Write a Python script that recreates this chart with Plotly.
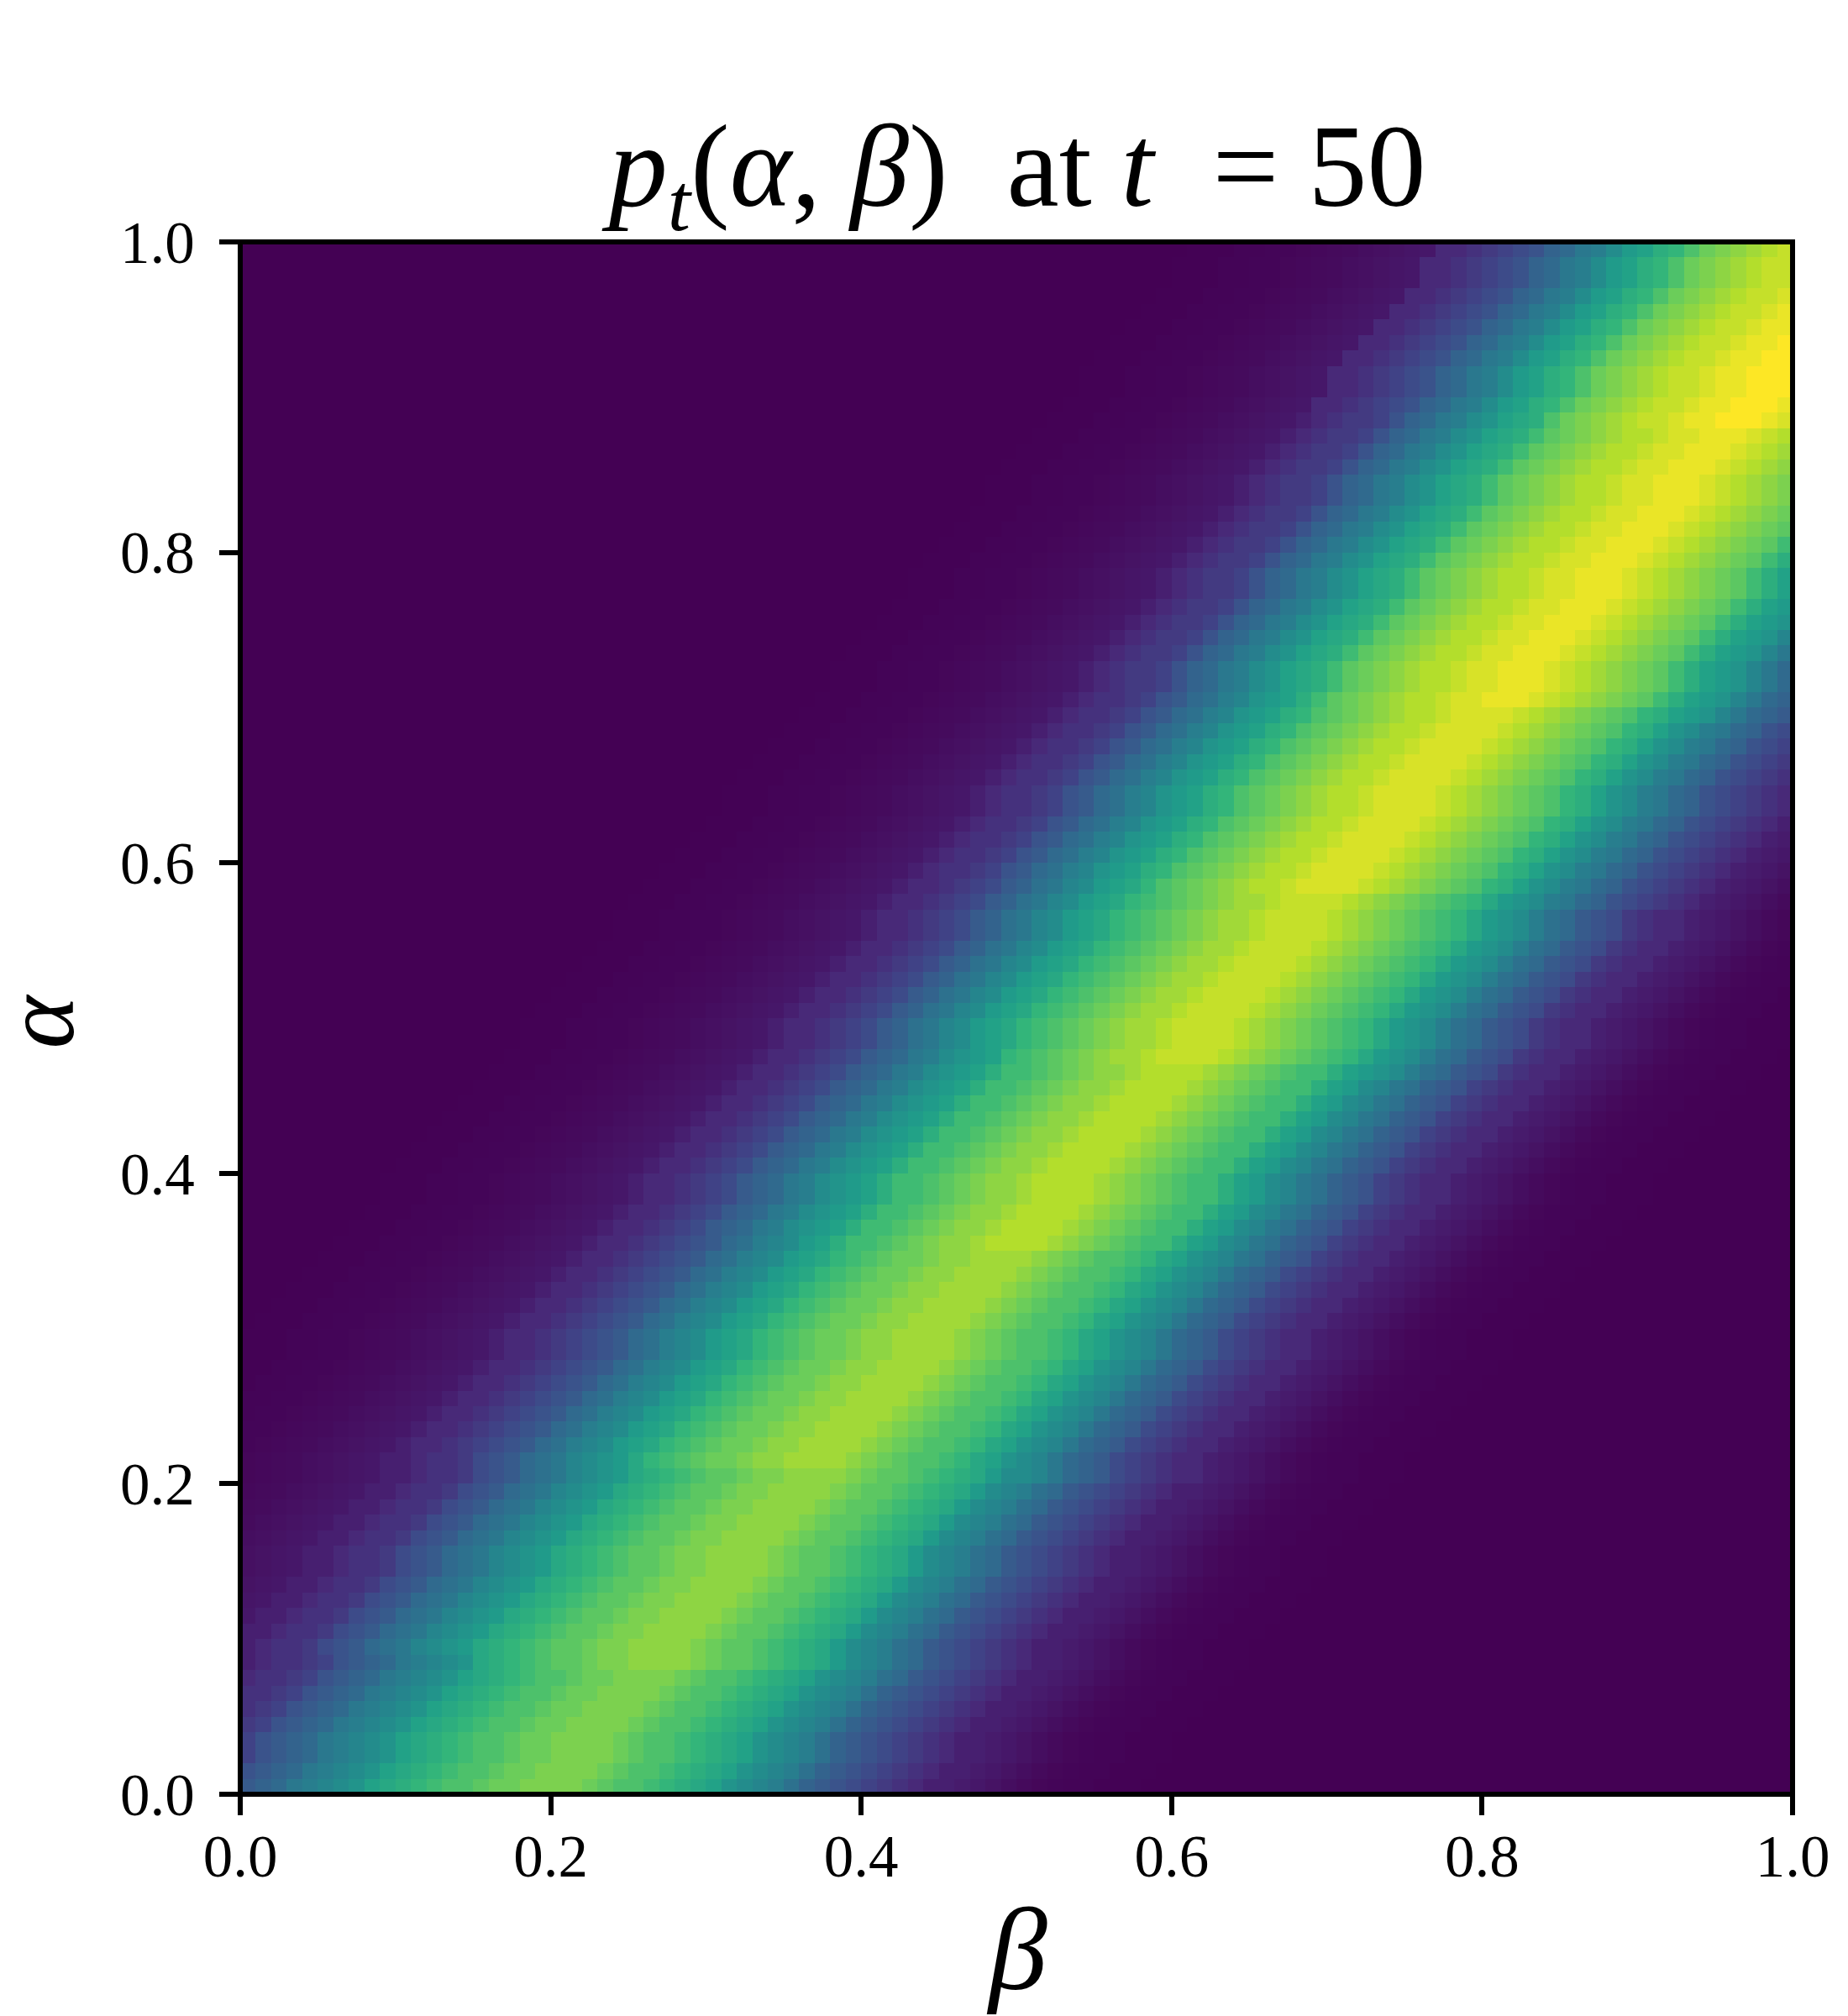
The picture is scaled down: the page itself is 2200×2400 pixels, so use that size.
"""Heatmap of p_t(alpha, beta) at t = 50, 100 x 100 cells, viridis."""
import plotly.graph_objects as go

N_CELLS = 100
LEVEL_MAX = 35  # digits 0-9a-z are cell levels out of 35

# finer steps for the dark tails, where viridis changes quickly
TAIL_LEVELS = {
    "A": 0.004, "B": 0.008, "C": 0.012, "D": 0.016, "E": 0.021, "F": 0.025,
    "G": 0.036, "H": 0.043, "I": 0.050, "J": 0.064, "K": 0.075,
}

# first column covered by each row's string, bottom row first
ROW_START = [
    -24, -23, -22, -22, -21, -20, -19, -18, -17, -17,
    -16, -15, -14, -13, -12, -12, -11, -10, -9, -8,
    -7, -7, -6, -5, -4, -3, -2, -1, 0, 0,
    1, 2, 3, 4, 5, 6, 7, 8, 9, 9,
    10, 11, 12, 13, 14, 15, 16, 17, 18, 18,
    19, 20, 21, 22, 23, 24, 24, 25, 26, 27,
    28, 29, 30, 31, 31, 32, 33, 34, 35, 36,
    37, 38, 38, 39, 40, 41, 42, 43, 43, 44,
    45, 46, 47, 48, 48, 49, 50, 51, 52, 53,
    54, 54, 55, 56, 57, 58, 59, 60, 60, 61,
]

# cell levels along each row, bottom row first; everything outside is 0
ROW_LEVELS = [
    # rows 0-9
    "AAABBCCDEF1GHI2J33455679abcefghiklmnoppqrrssssrqpponmlkihgfdba98765433KJIGFDCBBAAA",
    "AAABBCCDEF1GHI2J33455679abcefghiklmnoppqrrssssrqpponmlkihgfdba98765433KJIGFDCBBAAA",
    "AAABBCCDEF1GHI2J33455679abcefghiklmnoppqrrssssrqpponmlkihgfdba98765433KJIGFDCBBAAA",
    "AAABBCCDEF1GHI2J33455679abcefghiklmnoppqrrssssrqpponmlkihgfdba98765433KJIGFDCBBAAA",
    "AAABBCCDEF1GHI2J33455679abcefghiklmnoppqrrssssrqpponmlkihgfdba98765433KJIGFDCBBAAA",
    "AAABBCCDEF1GHI2J33455679abcefghiklmnoppqrrssssrqpponmlkihgfdba98765433KJIGFDCBBAAA",
    "AAABBCCDEF1GHI2J33455679abcefghiklmnoppqrrssssrqpponmlkihgfdba98765433KJIGFDCBBAAA",
    "AAABBCCDEF1GHI2J33455679abcefghiklmnoppqrrssssrqpponmlkihgfdca98765433KJIGFDCBBAAA",
    "AAABBCCDEF1GHI2J33455679abcefghilmnopqqrssttttsrqqponmljhgfdca98765433KJIGFDCBBAAA",
    "AAABBCCDEF1GHI2J33455689acdeghijlmnopqqrssttttsrqqponmljhgfdca98765433KJIGFDCBBAAA",
    # rows 10-19
    "AAABBCCDEF1GHI2J33455689acdeghijlmnopqqrssttttsrqqponmljhgfdca98765433KJIGFDCBBAAA",
    "AAABBCCDEF1GHI2J33455689acdeghijlmnopqqrssttttsrqqponmljhgfdca98765433KJIGFDCBBAAA",
    "AAABBCCDEF1GHI2J33455689acdeghijlmnopqqrssttttsrqqponmljhgfdca98765433KJIGFDCBBAAA",
    "AAABBCCDEF1GHI2J33455689acdeghijlmnopqqrssttttsrqqponmljhgfdca98765433KJIGFDCBBAAA",
    "AAABBCCDEF1GHI2J33455689acdeghijlmnopqqrssttttsrqqponmljhgfdca98765433KJIGFDCBBAAA",
    "AAABBCCDEF1GHI2J33455689acdeghijlmnopqqrssttttsrqqponmljhgfdca98765433KJIGFDCBBAAA",
    "AAABBCCDEF1GHI2J33455689acdeghijlmnopqqrssttttsrqqponmljhgfdca98765433KJIGFDCBBAAA",
    "AAABBCCDEF1GHI2J33455689acdeghijlmnopqqrssttttsrqqponmljhgfdca98765433KJIGFDCBBAAA",
    "AAABBCCDEF1GHI2J33455689acdeghijlmnopqqrssttttsrqqponmljhgfdca98765433KJIGFDCBBAAA",
    "AAABBCCDEF1GHI2J33455689acdeghijlmnopqqrssttttsrqqponmljhgfdca98765433KJIGFDCBBAAA",
    # rows 20-29
    "AAABBCCDEF1GHI2J33455689acdeghijlmnopqqrssttttsrqqponmljhhgecba8765443KJIGFDCBBAAA",
    "AAABBCCDEF1GHI2J33455689acdeghijlnopqrrsttuuuutsrqpponlkihgecba8765443KJIGFDCBBAAA",
    "AAABBCCDEF1GHI2J34456789acdfghjklnopqrrsttuuuutsrqpponlkihgecba8765443KJIGFDCBBAAA",
    "AAABBCCDEF1GHI2J34456789acdfghjklnopqrrsttuuuutsrqpponlkihgecba8765443KJIGFDCBBAAA",
    "AAABBCCDEF1GHI2J34456789acdfghjklnopqrrsttuuuutsrqpponlkihgecba8765443KJIGFDCBBAAA",
    "AAABBCCDEF1GHI2J34456789acdfghjklnopqrrsttuuuutsrqpponlkihgecba8765443KJIGFDCBBAAA",
    "AAABBCCDEF1GHI2J34456789acdfghjklnopqrrsttuuuutsrqpponlkihgecba8765443KJIGFDCBBAAA",
    "AAABBCCDEF1GHI2J34456789acdfghjklnopqrrsttuuuutsrqpponlkihgecba8765443KJIGFDCBBAAA",
    "AAABBCCDEF1GHI2J34456789acdfghjklnopqrrsttuuuutsrqpponlkihgecba8765443KJIGFDCBBAAA",
    "AAABBCCDEF1GHI2J34456789acdfghjklnopqrrsttuuuutsrqpponlkihgecba8765443KJIGFDCBBAAA",
    # rows 30-39
    "AAABBCCDEF1GHI2J34456789acdfghjklnopqrrsttuuuutsrqpponlkihgecba8765443KJIGFDCBBAAA",
    "AAABBCCDEF1GHI2J34456789acdfghjklnopqrrsttuuuutsrqpponlkihgecba8765443KJIGFDCBBAAA",
    "AAABBCCDEF1GHI2J34456789acdfghjklnopqrrsttuuuutsrqpponlkihgecba8765443KJIGFDCBBAAA",
    "AAABBCCDEF1GHI2J34456789acdfghjklnopqrrsttuuuutsrqpponlkihgecba8765443KJIGFDCBBAAA",
    "AAABBCCDEF1GHI2J34456789acdfghjklnopqrrsttuuuutsrqpponlkihgedba9765443KJIGFDCBBAAA",
    "AAABBCCDEF1GHI2J34456789acdfghjkmoopqrsttuvvvvutsrqpoomkjhgedba9765443KJIGFDCBBAAA",
    "AAABBCCDEF1GHI2J3445678abcefhijkmoopqrsttuvvvvutsrqpoomkjhgedba9765443KJIGFDCBBAAA",
    "AAABBCCDEF1GHI2J3445678abcefhijkmoopqrsttuvvvvutsrqpoomkjhgedba9765443KJIGFDCBBAAA",
    "AAABBCCDEF1GHI2J3445678abcefhijkmoopqrsttuvvvvutsrqpoomkjhgedba9765443KJIGFDCBBAAA",
    "AAABBCCDEF1GHI2J3445678abcefhijkmoopqrsttuvvvvutsrqpoomkjhgedba9765443KJIGFDCBBAAA",
    # rows 40-49
    "AAABBCCDEF1GHI2J3445678abcefhijkmoopqrsttuvvvvutsrqpoomkjhgedba9765443KJIGFDCBBAAA",
    "AAABBCCDEF1GHI2J3445678abcefhijkmoopqrsttuvvvvutsrqpoomkjhgedba9765443KJIGFDCBBAAA",
    "AAABBCCDEF1GHI2J3445678abcefhijkmoopqrsttuvvvvutsrqpoomkjhgedba9765443KJIGFDCBBAAA",
    "AAABBCCDEF1GHI2J3445678abcefhijkmoopqrsttuvvvvutsrqpoomkjhgedba9765443KJIGFDCBBAAA",
    "AAABBCCDEF1GHI2J3445678abcefhijkmoopqrsttuvvvvutsrqpoomkjhgedba9765443KJIGFDCBBAAA",
    "AAABBCCDEF1GHI2J3445678abcefhijkmoopqrsttuvvvvutsrqpoomkjhgedba9765443KJIGFDCBBAAA",
    "AAABBCCDEF1GHI2J3445678abcefhijkmoopqrsttuvvvvutsrqpoomkjihfdca9865443KJIGFDCBBAAA",
    "AAABBCCDEF1GHI2J3445678abcefhijknopqrstuuvwwwwvutsrqponljihfdca9865443KJIGFDCBBAAA",
    "AAABBCCDEF1GHI2J3445678abdeghjklnopqrstuuvwwwwvutsrqponljihfdca9865443KJIGFDCBBAAA",
    "AAABBCCDEF1GHI2J3445678abdeghjklnopqrstuuvwwwwvutsrqponljihfdca9865443KJIGFDCBBAAA",
    # rows 50-59
    "AAABBCCDEF1GHI2J3445678abdeghjklnopqrstuuvwwwwvutsrqponljihfdca9865443KJIGFDCBBAAA",
    "AAABBCCDEF1GHI2J3445678abdeghjklnopqrstuuvwwwwvutsrqponljihfdca9865443KJIGFDCBBAAA",
    "AAABBCCDEF1GHI2J3445678abdeghjklnopqrstuuvwwwwvutsrqponljihfdca9865443KJIGFDCBBAAA",
    "AAABBCCDEF1GHI2J3445678abdeghjklnopqrstuuvwwwwvutsrqponljihfdca9865443KJIGFDCBBAAA",
    "AAABBCCDEF1GHI2J3445678abdeghjklnopqrstuuvwwwwvutsrqponljihfdca9865443KJIGFDCBBAAA",
    "AAABBCCDEF1GHI2J3445678abdeghjklnopqrstuuvwwwwvutsrqponljihfdca9865443KJIGFDCBBAAA",
    "AAABBCCDEF1GHI2J3445678abdeghjklnopqrstuuvwwwwvutsrqponljihfdca9865443KJIGFDCBBAAA",
    "AAABBCCDEF1GHI2J3445678abdeghjklnopqrstuuvwwwwvutsrqponljihfecb9876543KJIGFDCBBAAA",
    "AAABBCCDEF1GHI2J3445678abdeghjklnpqrstuvvwxxxxwvutsrqpnmkihfecb9876543KJIGFDCBBAAA",
    "AAABBCCDEF1GHI2J3455679acdfgijkmnpqrstuvvwxxxxwvutsrqpnmkihfecb9876543KJIGFDCBBAAA",
    # rows 60-69
    "AAABBCCDEF1GHI2J3455679acdfgijkmnpqrstuvvwxxxxwvutsrqpnmkihfecb9876543KJIGFDCBBAAA",
    "AAABBCCDEF1GHI2J3455679acdfgijkmnpqrstuvvwxxxxwvutsrqpnmkihfecb9876543KJIGFDCBBAAA",
    "AAABBCCDEF1GHI2J3455679acdfgijkmnpqrstuvvwxxxxwvutsrqpnmkihfecb9876543KJIGFDCBBAAA",
    "AAABBCCDEF1GHI2J3455679acdfgijkmnpqrstuvvwxxxxwvutsrqpnmkihfecb9876543KJIGFDCBBAAA",
    "AAABBCCDEF1GHI2J3455679acdfgijkmnpqrstuvvwxxxxwvutsrqpnmkihfecb9876543KJIGFDCBBAAA",
    "AAABBCCDEF1GHI2J3455679acdfgijkmnpqrstuvvwxxxxwvutsrqpnmkihfecb9876543KJIGFDCBBAAA",
    "AAABBCCDEF1GHI2J3455679acdfgijkmnpqrstuvvwxxxxwvutsrqpnmkihfecb9876543KJIGFDCBBAAA",
    "AAABBCCDEF1GHI2J3455679acdfgijkmnpqrstuvvwxxxxwvutsrqpnmkihfecb9876543KJIGFDCBBAAA",
    "AAABBCCDEF1GHI2J3455679acdfgijkmnpqrstuvvwxxxxwvutsrqpnmkihfecb9876543KJIGFDCBBAAA",
    "AAABBCCDEF1GHI2J3455679acdfgijkmnpqrstuvvwxxxxwvutsrqpnmkjigecba876543KJIGFDCBBAAA",
    # rows 70-79
    "AAABBCCDEF1GHI2J3455679acdfgijkmoqrstuvvwxxyyyxwvutsrqomkjigecba876543KJIGFDCBBAAA",
    "AAABBCCDEF1GHI2J3456679bcefhiklmoqrstuvvwxxyyyxwvutsrqomkjigecba876543KJIGFDCBBAAA",
    "AAABBCCDEF1GHI2J3456679bcefhiklmoqrstuvvwxxyyyxwvutsrqomkjigecba876543KJIGFDCBBAAA",
    "AAABBCCDEF1GHI2J3456679bcefhiklmoqrstuvvwxxyyyxwvutsrqomkjigecba876543KJIGFDCBBAAA",
    "AAABBCCDEF1GHI2J3456679bcefhiklmoqrstuvvwxxyyyxwvutsrqomkjigecba876543KJIGFDCBBAAA",
    "AAABBCCDEF1GHI2J3456679bcefhiklmoqrstuvvwxxyyyxwvutsrqomkjigecba876543KJIGFDCBBAAA",
    "AAABBCCDEF1GHI2J3456679bcefhiklmoqrstuvvwxxyyyxwvutsrqomkjigecba876543KJIGFDCBBAAA",
    "AAABBCCDEF1GHI2J3456679bcefhiklmoqrstuvvwxxyyyxwvutsrqomkjigecba876543KJIGFDCBBAAA",
    "AAABBCCDEF1GHI2J3456679bcefhiklmoqrstuvvwxxyyyxwvutsrqomkjigecba876543KJIGFDCBBAAA",
    "AAABBCCDEF1GHI2J3456679bcefhiklmoqrstuvvwxxyyyxwvutsrqomkjigecba876543KJIGFDCBBAAA",
    # rows 80-89
    "AAABBCCDEF1GHI2J3456679bcefhiklmoqrstuvvwxxyyyxwvutsrqomkjigecba876543KJIGFDCBBAAA",
    "AAABBCCDEF1GHI2J3456679bcefhiklmoqrstuvvwxxyyyxwvutsrqomkjigecba876543KJIGFDCBBAAA",
    "AAABBCCDEF1GHI2J3456679bcefhiklmoqrstuvvwxxyyyxwvutsrqomkjigecba876543KJIGFDCBBAAA",
    "AAABBCCDEF1GHI2J3456679bcefhiklmoqrstuvvwxxyyyxwvutsrqomkjigecba876543KJIGFDCBBAAA",
    "AAABBCCDEF1GHI2J3456679bcefhiklmoqrstuvvwxxyyyxwvutsrqomkjigecba876543KJIGFDCBBAAA",
    "AAABBCCDEF1GHI2J3456679bcefhiklmoqrstuvvwxxyyyxwvutsrqomkjigecba876543KJIGFDCBBAAA",
    "AAABBCCDEF1GHI2J3456679bcefhiklmoqrstuvvwxxyyyxwvutsrqomkjigecba876543KJIGFDCBBAAA",
    "AAABBCCDEF1GHI2J3456679bcefhiklmoqrstuvvwxxyyyxwvutsrqomkkigedba876544KJIGFDCBBAAA",
    "AAABBCCDEF1GHI2J3456679bcefhiklmprstuvwwxyyzzzyxwvutsrpnlkigedba876544KJIGFDCBBAAA",
    "AAABBCCDEF1GHI2J4456789bcefhjkmnprstuvwwxyyzzzyxwvutsrpnlkigedba876544KJIGFDCBBAAA",
    # rows 90-99
    "AAABBCCDEF1GHI2J4456789bcefhjkmnprstuvwwxyyzzzyxwvutsrpnlkigedba876544KJIGFDCBBAAA",
    "AAABBCCDEF1GHI2J4456789bcefhjkmnprstuvwwxyyzzzyxwvutsrpnlkigedba876544KJIGFDCBBAAA",
    "AAABBCCDEF1GHI2J4456789bcefhjkmnprstuvwwxyyzzzyxwvutsrpnlkigedba876544KJIGFDCBBAAA",
    "AAABBCCDEF1GHI2J4456789bcefhjkmnprstuvwwxyyzzzyxwvutsrpnlkigedba876544KJIGFDCBBAAA",
    "AAABBCCDEF1GHI2J4456789bcefhjkmnprstuvwwxyyzzzyxwvutsrpnlkigedba876544KJIGFDCBBAAA",
    "AAABBCCDEF1GHI2J4456789bcefhjkmnprstuvwwxyyzzzyxwvutsrpnlkigedba876544KJIGFDCBBAAA",
    "AAABBCCDEF1GHI2J4456789bcefhjkmnprstuvwwxyyzzzyxwvutsrpnlkigedba876544KJIGFDCBBAAA",
    "AAABBCCDEF1GHI2J4456789bcefhjkmnprstuvwwxyyzzzyxwvutsrpnlkigedba876544KJIGFDCBBAAA",
    "AAABBCCDEF1GHI2J4456789bcefhjkmnprstuvwwxyyzzzyxwvutsrpnlkigedba876544KJIGFDCBBAAA",
    "AAABBCCDEF1GHI2J4456789bcefhjkmnprstuvwwxyyzzzyxwvutsrpnlkigedba876544KJIGFDCBBAAA",
]

TICK_VALUES = [0.0, 0.2, 0.4, 0.6, 0.8, 1.0]
TICK_LABELS = ["0.0", "0.2", "0.4", "0.6", "0.8", "1.0"]

SERIF = "Liberation Serif"

# extra no-break spaces stand in for the wider maths spacing of the original
TITLE = "<i>p<sub>t</sub></i>(<i>α</i>, <i>β</i>)\u00a0 at <i>t</i>\u00a0 = 50"


def level_of(ch):
    if ch in TAIL_LEVELS:
        return TAIL_LEVELS[ch]
    return int(ch, 36) / LEVEL_MAX


def cells_of_row(start, levels):
    cells = [0.0] * N_CELLS
    for i, ch in enumerate(levels):
        col = start + i
        if 0 <= col < N_CELLS:
            cells[col] = level_of(ch)
    return cells


z = [cells_of_row(s, lv) for s, lv in zip(ROW_START, ROW_LEVELS)]
centres = [(i + 0.5) / N_CELLS for i in range(N_CELLS)]

fig = go.Figure(
    go.Heatmap(
        x=centres,
        y=centres,
        z=z,
        zmin=0,
        zmax=1,
        colorscale="Viridis",
        showscale=False,
    )
)

axis = dict(
    range=[0, 1],
    tickvals=TICK_VALUES,
    ticktext=TICK_LABELS,
    ticks="outside",
    ticklen=24,
    tickwidth=6,
    tickcolor="black",
    tickfont=dict(family=SERIF, size=71, color="black"),
    showline=False,
    showgrid=False,
    zeroline=False,
)

fig.update_layout(
    width=2200,
    height=2400,
    margin=dict(l=286, r=66, t=288, b=264, autoexpand=False),
    paper_bgcolor="white",
    plot_bgcolor="white",
    font=dict(family=SERIF, color="black"),
    xaxis=dict(axis, ticklabelstandoff=-12),
    yaxis=dict(axis, ticklabelstandoff=15),
    title=dict(
        text=TITLE,
        font=dict(family=SERIF, size=140, color="black"),
        x=0.5505,
        xanchor="center",
        y=0.898,
        yanchor="bottom",
    ),
    # frame centred on the image edge, over the cells
    shapes=[
        dict(
            type="rect",
            xref="paper",
            yref="paper",
            x0=0,
            x1=1,
            y0=0,
            y1=1,
            line=dict(color="black", width=6),
            layer="above",
        )
    ],
    annotations=[
        dict(
            text="<i>α</i>",
            xref="paper",
            yref="paper",
            x=-0.13,
            y=0.498,
            xanchor="center",
            yanchor="middle",
            textangle=-90,
            height=100,
            showarrow=False,
            font=dict(family=SERIF, size=120, color="black"),
        ),
        dict(
            text="<i>β</i>",
            xref="paper",
            yref="paper",
            x=0.5,
            y=-0.1,
            xanchor="center",
            yanchor="middle",
            showarrow=False,
            font=dict(family=SERIF, size=140, color="black"),
        ),
    ],
)

fig.write_html(
    "out.html",
    post_script="document.body.style.margin='0';",
    config={"displayModeBar": False},
)
